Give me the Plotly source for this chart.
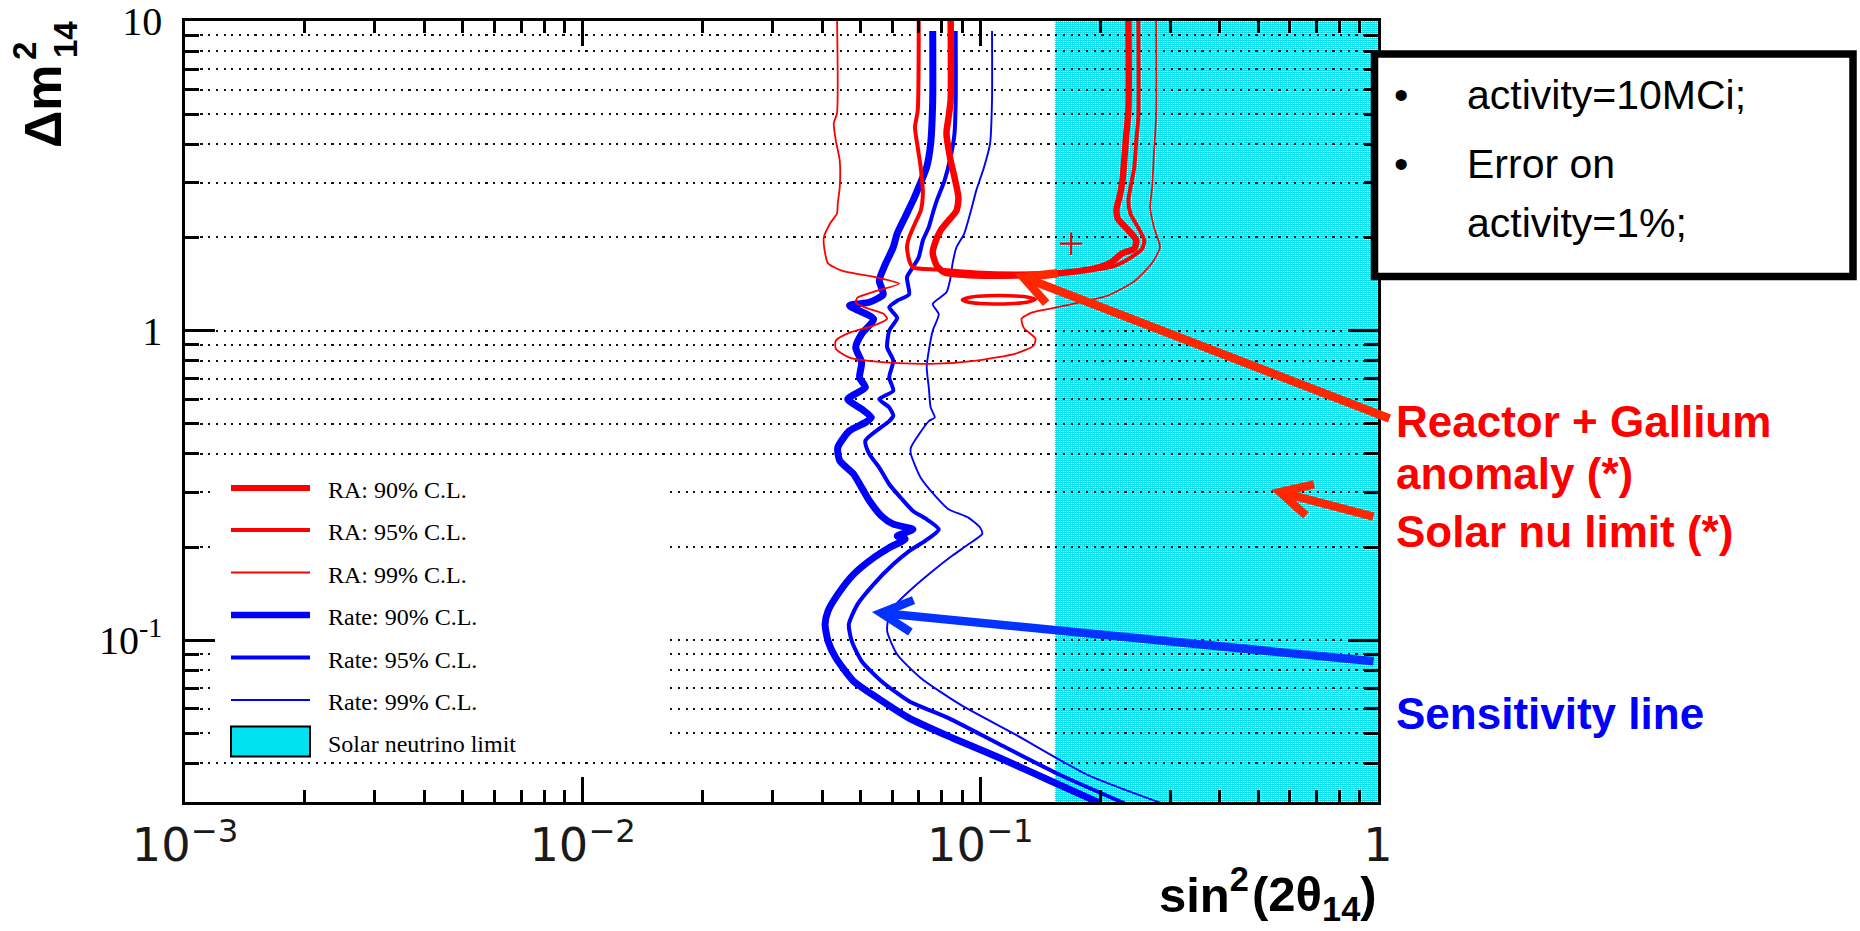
import base64
import math
import plotly.graph_objects as go

# ---------------------------------------------------------------------------
# Contours in the (sin^2(2θ14), Δm^2_14) plane
# ---------------------------------------------------------------------------
# Sensitivity (rate analysis) contours
rate90_x = [0.0759, 0.0759, 0.0750, 0.0733, 0.0700, 0.0677, 0.0647, 0.0618, 0.0604, 0.0577,
            0.0557, 0.0570, 0.0526, 0.0469, 0.0539, 0.0503, 0.0486, 0.0503, 0.0497, 0.0514,
            0.0464, 0.0503, 0.0532, 0.0514, 0.0469, 0.0438, 0.0443, 0.0480, 0.0503, 0.0526,
            0.0564, 0.0604, 0.0677, 0.0618, 0.0647, 0.0590, 0.0539, 0.0480, 0.0438, 0.0414,
            0.0407, 0.0414, 0.0433, 0.0480, 0.0551, 0.0662, 0.0851, 0.1120, 0.1509, 0.2008]
rate90_y = [9.3, 5.55, 4.02, 3.38, 2.91, 2.63, 2.33, 2.06, 1.86, 1.64,
            1.45, 1.31, 1.235, 1.205, 1.09, 0.976, 0.883, 0.790, 0.706, 0.655,
            0.601, 0.558, 0.524, 0.505, 0.475, 0.419, 0.380, 0.344, 0.311, 0.282,
            0.252, 0.237, 0.228, 0.217, 0.212, 0.199, 0.1846, 0.1632, 0.1406, 0.1242,
            0.1124, 0.0993, 0.0877, 0.0737, 0.0651, 0.0560, 0.0483, 0.0416, 0.0350, 0.0297]

rate95_x = [0.0867, 0.0867, 0.0861, 0.0842, 0.0813, 0.0777, 0.0759, 0.0742, 0.0717, 0.0700,
            0.0677, 0.0654, 0.0662, 0.0618, 0.0590, 0.0618, 0.0590, 0.0583, 0.0604, 0.0590,
            0.0604, 0.0557, 0.0590, 0.0604, 0.0590, 0.0514, 0.0526, 0.0557, 0.0590, 0.0630,
            0.0677, 0.0733, 0.0786, 0.0725, 0.0662, 0.0604, 0.0539, 0.0491, 0.0467, 0.0475,
            0.0503, 0.0564, 0.0662, 0.0832, 0.1120, 0.1579, 0.2305]
rate95_y = [9.3, 5.55, 4.33, 3.64, 3.06, 2.63, 2.39, 2.16, 1.956, 1.727,
            1.603, 1.488, 1.31, 1.25, 1.19, 1.10, 1.0, 0.883, 0.80, 0.706,
            0.639, 0.601, 0.565, 0.531, 0.510, 0.441, 0.399, 0.361, 0.319, 0.289,
            0.2615, 0.2458, 0.228, 0.209, 0.194, 0.1758, 0.1515, 0.1305, 0.1124, 0.0993,
            0.0855, 0.0737, 0.0635, 0.0560, 0.0460, 0.0368, 0.0297]

rate99_x = [0.1070, 0.1070, 0.1058, 0.1022, 0.0977, 0.0943, 0.0911, 0.0871, 0.0851, 0.0842,
            0.0822, 0.0759, 0.0786, 0.0759, 0.0742, 0.0733, 0.0742, 0.0750, 0.0768, 0.0742,
            0.0669, 0.0669, 0.0708, 0.0777, 0.0832, 0.0933, 0.0999, 0.1011, 0.0933, 0.0851,
            0.0759, 0.0677, 0.0618, 0.0590, 0.0583, 0.0618, 0.0708, 0.0891, 0.1227, 0.1854,
            0.2864]
rate99_y = [9.3, 5.55, 4.02, 3.38, 2.84, 2.39, 2.06, 1.86, 1.64, 1.488,
            1.33, 1.22, 1.13, 1.0, 0.862, 0.763, 0.655, 0.565, 0.524, 0.510,
            0.419, 0.399, 0.335, 0.289, 0.265, 0.2488, 0.2309, 0.2205, 0.204, 0.1876,
            0.1673, 0.1477, 0.1320, 0.1210, 0.1069, 0.0899, 0.0755, 0.0619, 0.0495, 0.0368,
            0.0297]

# Reactor + Gallium anomaly (RA) allowed regions
ra90_x = [0.0842, 0.0842, 0.0832, 0.0822, 0.0842, 0.0861, 0.0881, 0.0871, 0.0832, 0.0795,
          0.0768, 0.0759, 0.0777, 0.0813, 0.0977, 0.1227, 0.1543, 0.1941, 0.2127, 0.2278,
          0.2439, 0.2467, 0.2357, 0.2216, 0.2201, 0.2237, 0.2278, 0.2304, 0.2330, 0.2357,
          0.2357]
ra90_y = [10.5, 5.55, 4.89, 4.34, 3.55, 3.13, 2.69, 2.44, 2.27, 2.11,
          1.91, 1.78, 1.62, 1.541, 1.507, 1.507, 1.530, 1.59, 1.66, 1.78,
          1.84, 1.96, 2.11, 2.30, 2.48, 2.69, 3.06, 3.63, 4.34, 5.15,
          10.5]

ra95_x = [0.0700, 0.0696, 0.0685, 0.0696, 0.0708, 0.0717, 0.0708, 0.0685, 0.0662, 0.0654,
          0.0662, 0.0677, 0.0777, 0.0977, 0.1227, 0.1543, 0.1941, 0.2177, 0.2385, 0.2553,
          0.2583, 0.2496, 0.2385, 0.2357, 0.2385, 0.2439, 0.2467, 0.2496, 0.2496]
ra95_y = [10.5, 5.15, 4.54, 3.91, 3.37, 2.78, 2.44, 2.22, 2.00, 1.86,
          1.69, 1.60, 1.575, 1.541, 1.530, 1.541, 1.575, 1.62, 1.72, 1.84,
          1.96, 2.15, 2.39, 2.63, 2.90, 3.37, 4.12, 4.89, 10.5]

ra95_island_x = [0.0901, 0.0950, 0.1050, 0.1180, 0.1300, 0.1375, 0.1310, 0.1180, 0.1040, 0.0940, 0.0901]
ra95_island_y = [1.259, 1.285, 1.297, 1.297, 1.287, 1.262, 1.235, 1.222, 1.222, 1.233, 1.259]

ra99_x = [0.0436, 0.0436, 0.0428, 0.0433, 0.0443, 0.0443, 0.0438, 0.0436, 0.0419, 0.0404,
          0.0407, 0.0414, 0.0448, 0.0551, 0.0625, 0.0551, 0.0491, 0.0486, 0.0514, 0.0570,
          0.0583, 0.0539, 0.0469, 0.0433, 0.0433, 0.0469, 0.0590, 0.0777, 0.0977, 0.1227,
          0.1361, 0.1376, 0.1285, 0.1270, 0.1345, 0.1543, 0.1771, 0.2100, 0.2450, 0.2700,
          0.2830, 0.2735, 0.2673, 0.2704, 0.2735, 0.2767, 0.2767]
ra99_y = [10.5, 5.04, 4.68, 4.12, 3.55, 2.90, 2.58, 2.39, 2.22, 2.00,
          1.78, 1.65, 1.564, 1.484, 1.419, 1.347, 1.279, 1.232, 1.187, 1.135,
          1.093, 1.038, 0.985, 0.928, 0.874, 0.818, 0.788, 0.782, 0.800, 0.843,
          0.894, 0.942, 1.023, 1.093, 1.144, 1.187, 1.232, 1.30, 1.45, 1.65,
          1.86, 2.15, 2.50, 2.90, 3.82, 4.89, 10.5]

best_fit_x = [0.169]
best_fit_y = [1.91]

solar_limit = 0.154          # sin^2(2θ14) excluded above this value

legend_labels = ["RA: 90% C.L.", "RA: 95% C.L.", "RA: 99% C.L.",
                 "Rate: 90% C.L.", "Rate: 95% C.L.", "Rate: 99% C.L.",
                 "Solar neutrino limit"]

y_tick_vals = [0.1, 1, 10]
y_tick_text = ["10<sup>-1</sup>", "1", "10"]

# arrow tips (data values) pointing at the features named on the right
arrow_tips_x = [0.128, 0.567, 0.0563]
arrow_tips_y = [1.49, 0.301, 0.1224]

# ---------------------------------------------------------------------------
# Styling / page geometry
# ---------------------------------------------------------------------------
FIG_W, FIG_H = 1860, 931
PLOT_L, PLOT_R, PLOT_T, PLOT_B = 185, 1378, 21, 802
X_RANGE = [-3, 0]
Y_RANGE = [math.log10(0.03), 1.0005]

RED = "#ff0000"
BLUE = "#0000ff"
ARROW_RED = "#ff2600"
ARROW_BLUE = "#0433ff"
CYAN = "rgb(0,226,240)"
GRID = dict(gridcolor="#111111", gridwidth=2.2, griddash="2.2px,5.5px")


def fx(px):
    """page pixel column -> paper fraction"""
    return (px - PLOT_L) / (PLOT_R - PLOT_L)


def fy(py):
    """page pixel row -> paper fraction"""
    return (PLOT_B - py) / (PLOT_B - PLOT_T)


def x_at(px):
    """page pixel column -> value on the log x axis"""
    return 10 ** (X_RANGE[0] + fx(px) * (X_RANGE[1] - X_RANGE[0]))


def y_at(py):
    """page pixel row -> value on the log y axis"""
    return 10 ** (Y_RANGE[0] + fy(py) * (Y_RANGE[1] - Y_RANGE[0]))


def hatch_uri(w, h):
    """fine white dot hatch (ROOT-style fill pattern) as an SVG data URI"""
    svg = (f'<svg xmlns="http://www.w3.org/2000/svg" width="{w}" height="{h}" '
           f'viewBox="0 0 {w} {h}" shape-rendering="crispEdges">'
           '<defs><pattern id="h" width="2" height="2" patternUnits="userSpaceOnUse">'
           '<rect width="1" height="1" fill="#ffffff"/></pattern></defs>'
           f'<rect width="{w}" height="{h}" fill="url(#h)"/></svg>')
    return "data:image/svg+xml;base64," + base64.b64encode(svg.encode()).decode()


fig = go.Figure()

contours = [
    (rate90_x, rate90_y, BLUE, 7.0),
    (rate95_x, rate95_y, BLUE, 4.0),
    (rate99_x, rate99_y, BLUE, 1.9),
    (ra90_x, ra90_y, RED, 6.5),
    (ra95_x, ra95_y, RED, 4.0),
    (ra95_island_x, ra95_island_y, RED, 3.5),
    (ra99_x, ra99_y, RED, 1.8),
]
for cx, cy, col, w in contours:
    fig.add_trace(go.Scatter(x=cx, y=cy, mode="lines",
                             line=dict(color=col, width=w, shape="spline", smoothing=0.6),
                             hoverinfo="skip", showlegend=False))

fig.add_trace(go.Scatter(x=best_fit_x, y=best_fit_y, mode="markers",
                         marker=dict(symbol="cross-thin", size=16,
                                     line=dict(color=RED, width=2.2)),
                         hoverinfo="skip", showlegend=False))

shapes = []
images = []
# solar neutrino excluded band (under the grid)
shapes.append(dict(type="rect", xref="x", yref="y", x0=solar_limit, x1=1.0,
                   y0=0.03, y1=10 ** Y_RANGE[1], fillcolor=CYAN, line=dict(width=0),
                   layer="below"))
band_w = round((PLOT_R - PLOT_L) * (0 - math.log10(solar_limit)) / (X_RANGE[1] - X_RANGE[0]))
images.append(dict(source=hatch_uri(band_w, PLOT_B - PLOT_T), xref="x", yref="y",
                   x=math.log10(solar_limit), y=Y_RANGE[1],
                   sizex=0 - math.log10(solar_limit), sizey=Y_RANGE[1] - Y_RANGE[0],
                   xanchor="left", yanchor="top", sizing="stretch", layer="below"))
# legend panel blanks out the grid behind it
shapes.append(dict(type="rect", xref="x", yref="y",
                   x0=x_at(215), x1=x_at(665), y0=y_at(758), y1=y_at(466),
                   fillcolor="white", line=dict(width=0), layer="between"))

annotations = []

# ---- legend ----
legend_styles = [(RED, 6), (RED, 4), (RED, 1.8), (BLUE, 6.5), (BLUE, 4), (BLUE, 1.9)]
legend_rows = [488, 530, 572.5, 615, 657.5, 700, 741.5]
for (col, w), row in zip(legend_styles, legend_rows):
    shapes.append(dict(type="line", xref="paper", yref="paper",
                       x0=fx(231), x1=fx(310), y0=fy(row), y1=fy(row),
                       line=dict(color=col, width=w), layer="above"))
for row, lab in zip(legend_rows, legend_labels):
    annotations.append(dict(text=lab, xref="paper", yref="paper", x=fx(326), y=fy(row + 2),
                            xanchor="left", yanchor="middle", showarrow=False,
                            font=dict(family="Liberation Serif", size=24, color="black")))
shapes.append(dict(type="rect", xref="paper", yref="paper",
                   x0=fx(231), x1=fx(310), y0=fy(756.5), y1=fy(726.5),
                   fillcolor=CYAN, line=dict(color="black", width=2), layer="above"))
images.append(dict(source=hatch_uri(78, 29), xref="paper", yref="paper",
                   x=fx(231.5), y=fy(727), sizex=fx(309.5) - fx(231.5), sizey=fy(727) - fy(756),
                   xanchor="left", yanchor="top", sizing="stretch", layer="above"))

# ---- arrows ----
arrow_tails = [(368, 142, ARROW_RED), (95, 25, ARROW_RED), (494, 48.5, ARROW_BLUE)]
HEAD_BACK, HEAD_SIDE, ARROW_W = 31, 16, 8.5
for tx, ty, (ax, ay, col) in zip(arrow_tips_x, arrow_tips_y, arrow_tails):
    annotations.append(dict(text="", x=math.log10(tx), y=math.log10(ty), xref="x", yref="y",
                            ax=ax, ay=ay, showarrow=True, arrowhead=0,
                            arrowwidth=ARROW_W, arrowcolor=col, standoff=0))
    L = math.hypot(ax, ay)
    ux, uy = ax / L, -ay / L
    nx, ny = -uy, ux
    w1 = (HEAD_BACK * ux + HEAD_SIDE * nx, HEAD_BACK * uy + HEAD_SIDE * ny)
    w2 = (HEAD_BACK * ux - HEAD_SIDE * nx, HEAD_BACK * uy - HEAD_SIDE * ny)
    shapes.append(dict(type="path", xref="x", yref="y", xsizemode="pixel", ysizemode="pixel",
                       xanchor=tx, yanchor=ty,
                       path=f"M{w1[0]:.1f},{w1[1]:.1f} L0,0 L{w2[0]:.1f},{w2[1]:.1f}",
                       line=dict(color=col, width=ARROW_W), layer="above"))

# ---- info box ----
shapes.append(dict(type="rect", xref="paper", yref="paper",
                   x0=fx(1374.5), x1=fx(1853), y0=fy(276.5), y1=fy(54),
                   fillcolor="white", line=dict(color="black", width=7.5), layer="above"))
box_font = dict(family="Liberation Sans", size=41, color="black")
for txt, row in [("activity=10MCi;", 95.5), ("Error on", 164), ("activity=1%;", 222.5)]:
    annotations.append(dict(text=txt, xref="paper", yref="paper", x=fx(1465), y=fy(row),
                            xanchor="left", yanchor="middle", showarrow=False, font=box_font))
for row in [95.5, 164]:
    annotations.append(dict(text="•", xref="paper", yref="paper", x=fx(1401), y=fy(row),
                            xanchor="center", yanchor="middle", showarrow=False, font=box_font))

# ---- side labels ----
side_font_red = dict(family="Liberation Sans", size=44, color=RED, weight="bold")
for txt, row in [("Reactor + Gallium", 421.5), ("anomaly (*)", 473), ("Solar nu limit (*)", 531)]:
    annotations.append(dict(text=txt, xref="paper", yref="paper", x=fx(1394), y=fy(row),
                            xanchor="left", yanchor="middle", showarrow=False, font=side_font_red))
annotations.append(dict(text="Sensitivity line", xref="paper", yref="paper", x=fx(1394), y=fy(713),
                        xanchor="left", yanchor="middle", showarrow=False,
                        font=dict(family="Liberation Sans", size=44, color=BLUE, weight="bold")))

# ---- axis titles ----
title_font = dict(family="Liberation Sans", color="black", weight="bold")
# x title in two pieces so the "sin^2" part sits left of the "1" tick label
annotations.append(dict(text="(2θ<sub>14</sub>)", xref="paper", yref="paper",
                        x=1.0, y=fy(929.5), xanchor="right", yanchor="bottom", showarrow=False,
                        borderpad=0, font=dict(size=49, **title_font)))
annotations.append(dict(text="sin<sup>2</sup>", xref="paper", yref="paper",
                        x=fx(1250), y=fy(922.5), xanchor="right", yanchor="bottom",
                        showarrow=False, borderpad=0, font=dict(size=49, **title_font)))
annotations.append(dict(text="Δm", xref="paper", yref="paper", x=fx(43), y=fy(106),
                        xanchor="center", yanchor="middle", textangle=-90, showarrow=False,
                        font=dict(size=52, **title_font)))
annotations.append(dict(text="2", xref="paper", yref="paper", x=fx(25), y=fy(51),
                        xanchor="center", yanchor="middle", textangle=-90, showarrow=False,
                        font=dict(size=33, **title_font)))
annotations.append(dict(text="14", xref="paper", yref="paper", x=fx(66), y=fy(40),
                        xanchor="center", yanchor="middle", textangle=-90, showarrow=False,
                        font=dict(size=33, **title_font)))

axis_common = dict(type="log", ticks="inside", tickwidth=2.5, tickcolor="black",
                   showline=True, linewidth=2.5, linecolor="black", mirror="ticks",
                   zeroline=False, automargin=False, ticklabeloverflow="allow")

fig.update_layout(
    width=FIG_W, height=FIG_H,
    margin=dict(l=PLOT_L, r=FIG_W - PLOT_R, t=PLOT_T, b=FIG_H - PLOT_B, pad=0),
    paper_bgcolor="white", plot_bgcolor="white",
    showlegend=False,
    font=dict(family="Liberation Sans", color="black"),
    xaxis=dict(range=X_RANGE, dtick=1, exponentformat="power", showexponent="all",
               ticklen=25, showgrid=False,
               tickfont=dict(family="DejaVu Sans", size=37, color="#1a1a1a"),
               ticklabelstandoff=3,
               minor=dict(dtick="D1", ticks="inside", ticklen=12, tickwidth=2.5,
                          tickcolor="black", showgrid=False),
               **axis_common),
    yaxis=dict(range=Y_RANGE, tickmode="array", tickvals=y_tick_vals, ticktext=y_tick_text,
               ticklen=30, showgrid=True, **GRID,
               tickfont=dict(family="Liberation Serif", size=40, color="black"),
               ticklabelstandoff=12,
               minor=dict(dtick="D1", ticks="inside", ticklen=14, tickwidth=2.5,
                          tickcolor="black", showgrid=True, **GRID),
               **axis_common),
    shapes=shapes,
    images=images,
    annotations=annotations,
)

fig.write_html("out.html")
